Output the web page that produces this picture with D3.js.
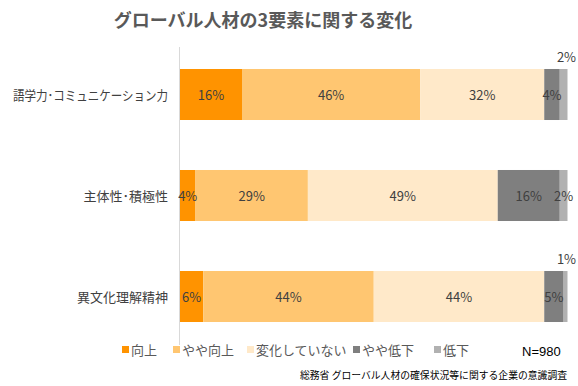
<!DOCTYPE html>
<html><head><meta charset="utf-8">
<script src="https://cdn.jsdelivr.net/npm/d3@7"></script>
<style>body{margin:0;background:#fff;font-family:"Noto Sans CJK JP","Noto Sans",sans-serif;}</style>
</head><body><svg id="c" width="578" height="386"></svg>
<script>
const categories = ["語学力･コミュニケーション力", "主体性･積極性", "異文化理解精神"];
const seriesNames = ["向上", "やや向上", "変化していない", "やや低下", "低下"];
const v_up = [16, 4, 6];
const v_someUp = [46, 29, 44];
const v_same = [32, 49, 44];
const v_someDown = [4, 16, 5];
const v_down = [2, 2, 1];
const colors = ["#FF9300", "#FFC671", "#FFE9C9", "#7F7F7F", "#B1B1B1"];

const seriesVals = [v_up, v_someUp, v_same, v_someDown, v_down];
const rows = categories.map((c, i) => {
  const o = {cat: c};
  seriesNames.forEach((s, j) => o[s] = seriesVals[j][i]);
  return o;
});
const stack = d3.stack().keys(seriesNames)(rows);

const svg = d3.select("#c");
const x = d3.scaleLinear().domain([0, 100]).range([180, 567.5]);
const y = d3.scaleBand().domain(categories).range([44, 347]).paddingInner(0.495).paddingOuter(0.2475);

svg.append("text").attr("x", 263).attr("y", 27).attr("text-anchor", "middle")
  .attr("font-size", 18).attr("font-weight", "bold").attr("fill", "#595959").text("グローバル人材の3要素に関する変化");

svg.append("line").attr("x1", 179.5).attr("x2", 179.5).attr("y1", 47).attr("y2", 345).attr("stroke", "#D9D9D9");

const g = svg.append("g");
stack.forEach((s, j) => {
  g.selectAll(null).data(s).enter().append("rect")
    .attr("x", d => x(d[0])).attr("width", d => x(d[1]) - x(d[0]))
    .attr("y", d => y(d.data.cat)).attr("height", y.bandwidth())
    .attr("fill", colors[j]);
});
const above = (j, d) => j === 4 && d.data.cat !== categories[1];
stack.forEach((s, j) => {
  g.selectAll(null).data(s).enter().append("text")
    .attr("x", d => above(j, d) ? x(d[1]) - 1 : (x(d[0]) + x(d[1])) / 2)
    .attr("y", d => above(j, d) ? y(d.data.cat) - 7 : y(d.data.cat) + y.bandwidth() / 2 + 5)
    .attr("text-anchor", "middle")
    .attr("font-size", 13).attr("fill", "#404040")
    .text(d => (d[1] - d[0]) + "%");
});

svg.selectAll(null).data(categories).enter().append("text")
  .attr("x", 168).attr("y", d => y(d) + y.bandwidth() / 2 + 5)
  .attr("text-anchor", "end").attr("font-size", 13).attr("fill", "#404040").text(d => d)
  .each(function() {
    if (this.getComputedTextLength() > 155) {
      d3.select(this).attr("textLength", 155).attr("lengthAdjust", "spacingAndGlyphs");
    }
  });

const legX = [122, 173, 247, 353, 434];
seriesNames.forEach((s, j) => {
  svg.append("rect").attr("x", legX[j]).attr("y", 346).attr("width", 7).attr("height", 7).attr("fill", colors[j]);
  svg.append("text").attr("x", legX[j] + 9).attr("y", 355).attr("font-size", 13).attr("fill", "#595959").text(s);
});
svg.append("text").attr("x", 522).attr("y", 356).attr("font-size", 13).attr("fill", "#000").attr("font-family", "Liberation Sans, Arial, sans-serif").text("N=980");
svg.append("text").attr("x", 567).attr("y", 379).attr("text-anchor", "end").attr("font-size", 10).attr("fill", "#000")
  .attr("textLength", 267).attr("lengthAdjust", "spacingAndGlyphs")
  .text("総務省 グローバル人材の確保状況等に関する企業の意識調査");
</script></body></html>
